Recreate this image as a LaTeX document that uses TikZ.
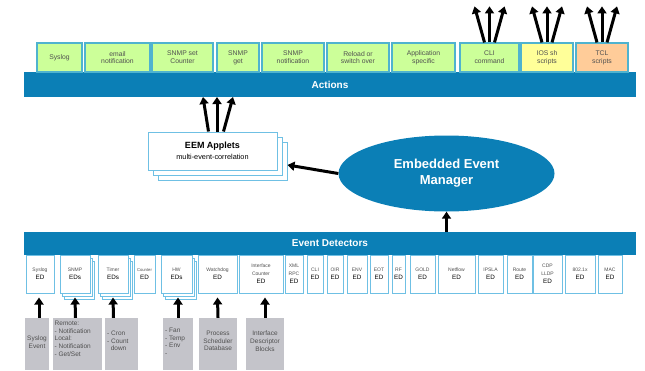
\documentclass[tikz,border=0pt]{standalone}
\usepackage{fontspec}
\setmainfont{Liberation Sans}
\usetikzlibrary{arrows.meta,shapes.geometric}
\definecolor{barblue}{HTML}{0B7FB6}
\definecolor{actfill}{HTML}{CCFF99}
\definecolor{actline}{HTML}{4FB3CF}
\definecolor{iosfill}{HTML}{FFFF99}
\definecolor{tclfill}{HTML}{FFCC99}
\definecolor{edline}{HTML}{6FC0E4}
\definecolor{grayfill}{HTML}{C4C4CA}
\definecolor{txtgray}{HTML}{505050}
\tikzset{
  act/.style={draw=actline, line width=1.2pt, fill=actfill, minimum height=29pt, inner sep=1pt,
    align=center, font=\fontsize{6.8}{7.8}\selectfont, text=txtgray},
  bar/.style={fill=barblue, minimum width=612pt, inner sep=0pt, text=white,
    font=\fontsize{10}{12}\selectfont\bfseries},
  edbox/.style={draw=edline, line width=1pt, fill=white, minimum height=38pt, inner sep=0.5pt,
    align=center, font=\fontsize{6.3}{8}\selectfont},
  edshadow/.style={draw=edline, line width=1pt, fill=white, minimum height=38pt, inner sep=0pt},
  gbox/.style={fill=grayfill, minimum height=52pt, inner sep=0pt},
  gtext/.style={anchor=north, align=center, font=\fontsize{6.5}{7.6}\selectfont, text=txtgray, inner sep=0pt},
  arr/.style={line width=3pt, -{Triangle[length=7pt,width=9pt]}},
  applet/.style={draw=edline, line width=1pt, fill=white, minimum width=129pt, minimum height=38pt},
}
\newcommand{\sm}[1]{{\fontsize{5}{6.2}\selectfont\color{txtgray}#1}}
\begin{document}
\begin{tikzpicture}[x=1pt,y=-1pt]
\useasboundingbox (0,0) rectangle (645,370);
% Actions
\node[bar, minimum height=25pt] (actbar) at (330,84.5) {Actions};
\node[act, minimum width=45pt] (a1) at (59.5,57.5) {Syslog};
\node[act, minimum width=65pt] (a2) at (117.5,57.5) {email\\notification};
\node[act, minimum width=61pt] (a3) at (182.5,57.5) {SNMP set\\Counter};
\node[act, minimum width=42pt] (a4) at (238,57.5) {SNMP\\get};
\node[act, minimum width=62pt] (a5) at (293,57.5) {SNMP\\notification};
\node[act, minimum width=62pt] (a6) at (358,57.5) {Reload or\\switch over};
\node[act, minimum width=63pt] (a7) at (423.5,57.5) {Application\\specific};
\node[act, minimum width=59pt] (cli) at (489.5,57.5) {CLI\\command};
\node[act, minimum width=52pt, fill=iosfill] (ios) at (547,57.5) {IOS sh\\scripts};
\node[act, minimum width=52pt, fill=tclfill] (tcl) at (602,57.5) {TCL\\scripts};
\foreach \n in {cli,ios,tcl}{
  \draw[arr] ([xshift=-5pt]\n.north) -- ++(-10,-36);
  \draw[arr] (\n.north) -- ++(0,-36);
  \draw[arr] ([xshift=5pt]\n.north) -- ++(10,-36);
}
% Applets
\node[applet] (ap3) at (222.5,161) {};
\node[applet] (ap2) at (217.5,156) {};
\node[applet, align=center] (ap1) at (212.5,151)
  {{\fontsize{9}{10.5}\selectfont\bfseries EEM Applets}\\[-1pt]{\fontsize{7.3}{8.5}\selectfont multi-event-correlation}};
\coordinate (t1) at (203,97);
\coordinate (t2) at (217,97);
\coordinate (t3) at (233,97);
\draw[arr] ([xshift=-4pt]ap1.north) -- (t1);
\draw[arr] ([xshift=4.5pt]ap1.north) -- (t2);
\draw[arr] ([xshift=11pt]ap1.north) -- (t3);
% EEM ellipse
\node[ellipse, fill=barblue, minimum width=216pt, minimum height=76pt, inner sep=0pt, align=center,
  text=white, font=\fontsize{13}{16}\selectfont\bfseries] (eem) at (446.5,173.5) {Embedded Event\\Manager};
\draw[arr] (eem.west) -- ([yshift=-4pt]ap3.east);
% Event detectors
\node[bar, minimum height=23pt] (edbar) at (330,243.5) {Event Detectors};
\draw[arr] (edbar.north -| eem.south) -- (eem.south);
% stacked shadows
\foreach \cx/\w in {75/30,113/30,176.5/31}{
  \node[edshadow, minimum width=\w pt] at (\cx+4,280) {};
  \node[edshadow, minimum width=\w pt] at (\cx+2,277) {};
}
\node[edbox, minimum width=28pt] (e1) at (40,274) {\sm{Syslog}\\ED};
\node[edbox, minimum width=30pt] (e2) at (75,274) {\sm{SNMP}\\EDs};
\node[edbox, minimum width=30pt] (e3) at (113,274) {\sm{Timer}\\EDs};
\node[edbox, minimum width=21pt] (e4) at (144.5,274) {{\fontsize{4.2}{6}\selectfont\color{txtgray}Counter}\\ED};
\node[edbox, minimum width=31pt] (e5) at (176.5,274) {\sm{HW}\\EDs};
\node[edbox, minimum width=39pt] (e6) at (217.5,274) {\sm{Watchdog}\\ED};
\node[edbox, minimum width=44pt] (e7) at (261,274) {\sm{Interface}\\\sm{Counter}\\ED};
\node[edbox, minimum width=18pt] (e8) at (294,274) {\sm{XML}\\\sm{RPC}\\ED};
\node[edbox, minimum width=16pt] (e9) at (315,274) {\sm{CLI}\\ED};
\node[edbox, minimum width=16pt] (e10) at (335,274) {\sm{OIR}\\ED};
\node[edbox, minimum width=20pt] (e11) at (357,274) {\sm{ENV}\\ED};
\node[edbox, minimum width=18pt] (e12) at (379,274) {\sm{EOT}\\ED};
\node[edbox, minimum width=13pt] (e13) at (398.5,274) {\sm{RF}\\ED};
\node[edbox, minimum width=25pt] (e14) at (422.5,274) {\sm{GOLD}\\ED};
\node[edbox, minimum width=37pt] (e15) at (456.5,274) {\sm{Netflow}\\ED};
\node[edbox, minimum width=25pt] (e16) at (490.5,274) {\sm{IPSLA}\\ED};
\node[edbox, minimum width=25pt] (e17) at (519.5,274) {\sm{Route}\\ED};
\node[edbox, minimum width=29pt] (e18) at (547.5,274) {\sm{CDP}\\\sm{LLDP}\\ED};
\node[edbox, minimum width=30pt] (e19) at (580,274) {\sm{802.1x}\\ED};
\node[edbox, minimum width=24pt] (e20) at (610,274) {\sm{MAC}\\ED};
% gray source boxes
\node[gbox, minimum width=24pt] (g1) at (37,344) {};
\node[gbox, minimum width=49pt] (g2) at (77.5,344) {};
\node[gbox, minimum width=33pt] (g3) at (121.5,344) {};
\node[gbox, minimum width=30pt] (g4) at (178,344) {};
\node[gbox, minimum width=38pt] (g5) at (218,344) {};
\node[gbox, minimum width=38pt] (g6) at (265,344) {};
\node[gtext] at (37,336) {Syslog\\Event};
\node[gtext, align=left, anchor=north west] at (54.5,321) {Remote:\\- Notification\\Local:\\- Notification\\- Get/Set};
\node[gtext, align=left, anchor=north west] at (107,331) {- Cron\\- Count\\\ \ down};
\node[gtext, align=left, anchor=north west] at (165,328) {- Fan\\- Temp\\- Env\\-};
\node[gtext] at (218,331) {Process\\Scheduler\\Database};
\node[gtext] at (265,331) {Interface\\Descriptor\\Blocks};
\draw[arr] ([xshift=2pt]g1.north) -- ([xshift=-1pt,yshift=-4pt]e1.south);
\draw[arr] ([xshift=-2pt]g2.north) -- ([yshift=-4pt]e2.south);
\draw[arr] ([xshift=-8pt]g3.north) -- ([yshift=-4pt]e3.south);
\draw[arr] (g4.north) -- ([xshift=1.5pt,yshift=-4pt]e5.south);
\draw[arr] (g5.north) -- ([yshift=-4pt]e6.south);
\draw[arr] (g6.north) -- ([xshift=4pt,yshift=-4pt]e7.south);
\end{tikzpicture}
\end{document}
